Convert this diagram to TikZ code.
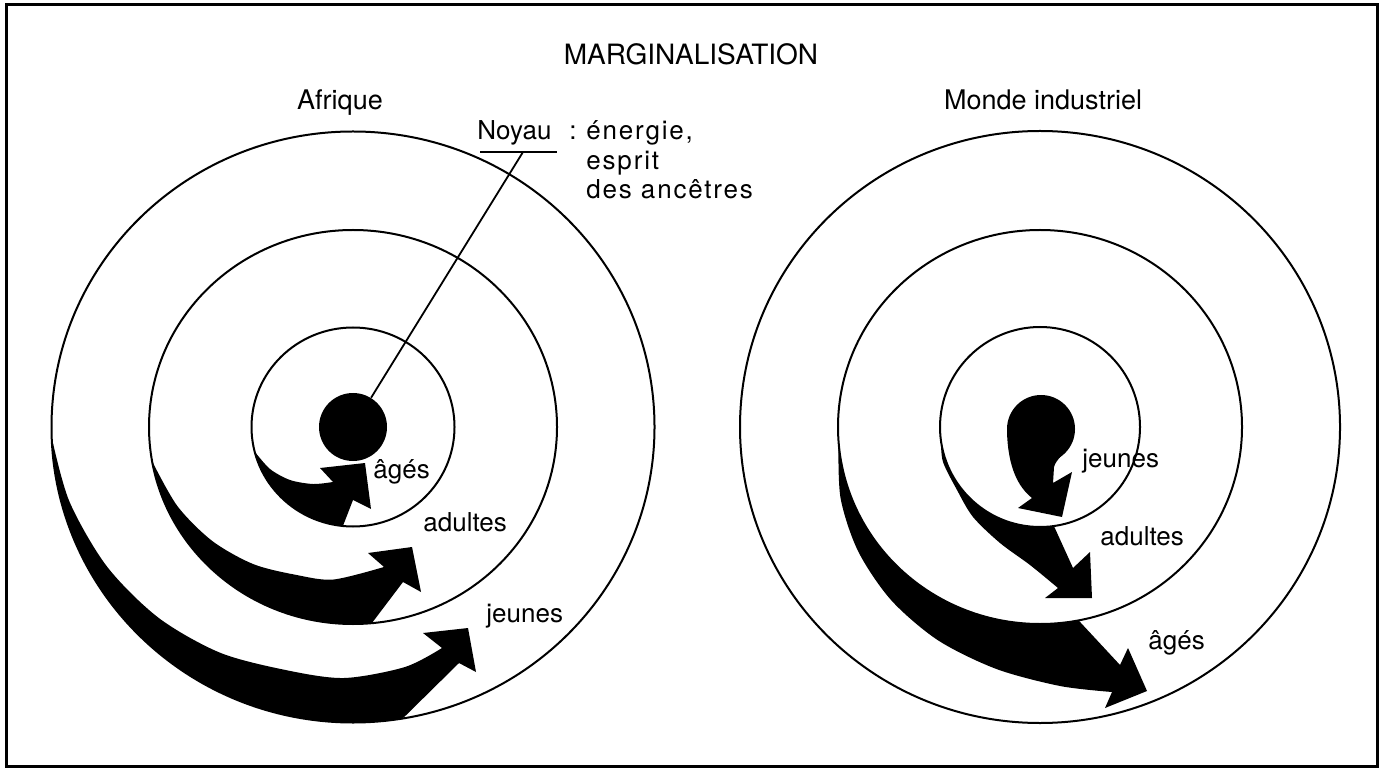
\documentclass[tikz,border=0pt]{standalone}
\usepackage{fontspec}
\setmainfont{TeX Gyre Heros}
\newfontfamily\spacedfont[LetterSpace=7]{TeX Gyre Heros}
\begin{document}
\begin{tikzpicture}[x=0.5pt,y=-0.5pt,
  lbl/.style={font=\fontsize{13}{15}\selectfont, inner sep=0pt, anchor=base west},
  lblsp/.style={font=\spacedfont\fontsize{13}{15}\selectfont, inner sep=0pt, anchor=base west},
  head/.style={font=\fontsize{13.5}{16}\selectfont, inner sep=0pt, anchor=base},
  ring/.style={line width=1pt},
  thin/.style={line width=0.9pt},
  frame/.style={line width=1.5pt}]

\useasboundingbox (0,0) rectangle (1384,769);
\draw[frame] (6,5) rectangle (1377,766);

% titles
\node[font=\fontsize{14}{16}\selectfont, inner sep=0pt, anchor=base] (title) at (691,65) {MARGINALISATION};
\node[head] (afr) at (340,110) {Afrique};
\node[head] (monde) at (1043,110) {Monde industriel};

% ---------------- left : Afrique ----------------
\begin{scope}[shift={(353,427)}]
  \draw[ring] (0,0) ellipse [x radius=101.5, y radius=99.5];
  \draw[ring] (0,0) ellipse [x radius=204, y radius=197];
  \draw[ring] (0,0) ellipse [x radius=301.5, y radius=295.5];
  \node[circle, fill=black, inner sep=0pt, minimum size=34pt] (dotL) at (0,0) {};
  % inner arrow (ages)
  \fill (165.7:101.5 and 99.5) arc[start angle=165.7, end angle=95.7, x radius=101.5, y radius=99.5]
    -- (0,73) -- (18,82) -- (12,36) -- (-33,41)
    -- plot[smooth] coordinates {(-20,55) (-40,57) (-63,53) (-83,42) (-98.3,24.6)} -- cycle;
  % middle arrow (adultes)
  \fill (170:204 and 197) arc[start angle=170, end angle=84.7, x radius=204, y radius=197]
    -- (50,155) -- (68,165) -- (59,120) -- (15,126)
    -- plot[smooth] coordinates {(31,140) (-19.4,152.5) (-55.8,148.1) (-99.5,137.2) (-140.7,114) (-175.6,79.1) (-200.9,34.2)} -- cycle;
  % outer arrow (jeunes)
  \fill (178:301.5 and 295.5) arc[start angle=178, end angle=80.5, x radius=301.5, y radius=295.5]
    -- (106,236) -- (123,245) -- (115,201) -- (70,206)
    -- plot[smooth] coordinates {(89,221) (52,240) (-8.9,251) (-66.5,243.2) (-133,225.7) (-194.6,190.7) (-246.2,139.3) (-283.6,74.5) (-301.3,10.3)} -- cycle;
\end{scope}

\node[lbl] (ageL) at (373,478) {âgés};
\node[lbl] (adL) at (423,531) {adultes};
\node[lbl] (jeL) at (486,622) {jeunes};

% Noyau label
\node[lbl] (noyau) at (477,140) {Noyau};
\node[lbl] (colon) at (569,140) {:};
\node[lblsp] (def1) at (586,140) {énergie,};
\node[lblsp] (def2) at (586,170) {esprit};
\node[lblsp] (def3) at (586,199) {des ancêtres};
\coordinate (ulA) at (480,152);
\coordinate (ulB) at (557,152);
\coordinate (ulM) at (523,152);
\draw[thin] (ulA) -- (ulB);
\draw[thin] (ulM) -- (dotL);

% ---------------- right : Monde industriel ----------------
\begin{scope}[shift={(1040,427)}]
  \draw[ring] (0,0) ellipse [x radius=100, y radius=100];
  \draw[ring] (0,0) ellipse [x radius=202, y radius=197];
  \draw[ring] (0,0) ellipse [x radius=300, y radius=296];
  % inner teardrop (jeunes)
  \fill (1,2) circle [radius=34];
  \fill (33,13) .. controls (25,27) and (16,32) .. (14,40) -- (13,56) -- (32,45) -- (22,90) -- (-22,81) -- (-8,71)
    .. controls (-22,60) and (-32,40) .. (-33,5) -- cycle;
  % middle band (adultes)
  \fill (172:100 and 100) arc[start angle=172, end angle=82, x radius=100, y radius=100]
    -- (33,141) -- (50,125) -- (52,171) -- (5,171)
    -- plot[smooth] coordinates {(18,161) (-10,138) (-40,116) (-67,90) (-83,63) (-97,35) (-99,13.9)} -- cycle;
  % outer band (ages)
  \fill (176:202 and 197) arc[start angle=176, end angle=79, x radius=202, y radius=197]
    -- (80,238) -- (88,221) -- (107,264) -- (65,281)
    -- plot[smooth] coordinates {(72,265) (20,259) (-43.6,242) (-102,213.3) (-148.9,173.1) (-181.9,124.2) (-199.5,70.8) (-201.5,13.7)} -- cycle;
\end{scope}

\node[lbl] (jeR) at (1082,467) {jeunes};
\node[lbl] (adR) at (1100,545) {adultes};
\node[lbl] (ageR) at (1148,649) {âgés};

\end{tikzpicture}
\end{document}
